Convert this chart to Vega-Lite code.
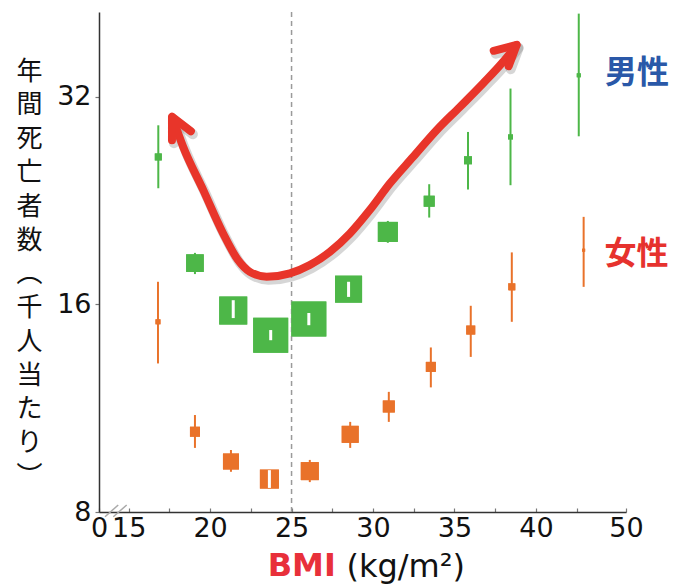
{
  "$schema": "https://vega.github.io/schema/vega-lite/v6.json",
  "width": 527,
  "height": 500,
  "autosize": {"type": "none"},
  "padding": {"left": 99, "top": 12, "right": 50, "bottom": 76},
  "background": "white",
  "config": {"view": {"stroke": null}},
  "datasets": {
    "pts": [
      {"sex": "男性", "bmi": 16.82, "rate": 26.19, "lo": 23.59, "hi": 29.11, "weight": 49, "inside": false},
      {"sex": "男性", "bmi": 19.07, "rate": 18.37, "lo": 17.71, "hi": 19.01, "weight": 310, "inside": false},
      {"sex": "男性", "bmi": 21.42, "rate": 15.68, "lo": 15.29, "hi": 16.23, "weight": 784, "inside": true},
      {"sex": "男性", "bmi": 23.72, "rate": 14.44, "lo": 14.2, "hi": 14.69, "weight": 1225, "inside": true},
      {"sex": "男性", "bmi": 26.06, "rate": 15.24, "lo": 14.93, "hi": 15.55, "weight": 1225, "inside": true},
      {"sex": "男性", "bmi": 28.5, "rate": 16.84, "lo": 16.41, "hi": 17.26, "weight": 729, "inside": true},
      {"sex": "男性", "bmi": 30.91, "rate": 20.39, "lo": 19.66, "hi": 21.15, "weight": 400, "inside": false},
      {"sex": "男性", "bmi": 33.45, "rate": 22.59, "lo": 21.39, "hi": 23.91, "weight": 121, "inside": false},
      {"sex": "男性", "bmi": 35.83, "rate": 25.9, "lo": 23.49, "hi": 28.47, "weight": 64, "inside": false},
      {"sex": "男性", "bmi": 38.44, "rate": 28.0, "lo": 23.83, "hi": 32.91, "weight": 25, "inside": false},
      {"sex": "男性", "bmi": 42.63, "rate": 34.4, "lo": 28.06, "hi": 42.27, "weight": 16, "inside": false},
      {"sex": "女性", "bmi": 16.8, "rate": 15.1, "lo": 13.14, "hi": 17.26, "weight": 25, "inside": false},
      {"sex": "女性", "bmi": 19.07, "rate": 10.46, "lo": 9.91, "hi": 11.06, "weight": 100, "inside": false},
      {"sex": "女性", "bmi": 21.28, "rate": 9.47, "lo": 9.15, "hi": 9.84, "weight": 256, "inside": false},
      {"sex": "女性", "bmi": 23.64, "rate": 8.93, "lo": 8.67, "hi": 9.2, "weight": 361, "inside": true},
      {"sex": "女性", "bmi": 26.12, "rate": 9.17, "lo": 8.84, "hi": 9.52, "weight": 324, "inside": false},
      {"sex": "女性", "bmi": 28.6, "rate": 10.37, "lo": 9.91, "hi": 10.81, "weight": 289, "inside": false},
      {"sex": "女性", "bmi": 30.97, "rate": 11.38, "lo": 10.81, "hi": 11.95, "weight": 144, "inside": false},
      {"sex": "女性", "bmi": 33.55, "rate": 12.99, "lo": 12.13, "hi": 13.86, "weight": 100, "inside": false},
      {"sex": "女性", "bmi": 36.0, "rate": 14.69, "lo": 13.43, "hi": 15.93, "weight": 81, "inside": false},
      {"sex": "女性", "bmi": 38.52, "rate": 16.97, "lo": 15.1, "hi": 19.04, "weight": 49, "inside": false},
      {"sex": "女性", "bmi": 42.93, "rate": 19.18, "lo": 16.97, "hi": 21.44, "weight": 9, "inside": false}
    ],
    "shaft": [
      {"order": 1, "bmi": 17.69, "rate": 29.9},
      {"order": 2, "bmi": 18.35, "rate": 27.08},
      {"order": 3, "bmi": 19.58, "rate": 23.44},
      {"order": 4, "bmi": 20.8, "rate": 20.28},
      {"order": 5, "bmi": 21.72, "rate": 18.55},
      {"order": 6, "bmi": 22.44, "rate": 17.84},
      {"order": 7, "bmi": 23.47, "rate": 17.55},
      {"order": 8, "bmi": 24.9, "rate": 17.75},
      {"order": 9, "bmi": 26.12, "rate": 18.25},
      {"order": 10, "bmi": 27.35, "rate": 19.07},
      {"order": 11, "bmi": 28.58, "rate": 20.28},
      {"order": 12, "bmi": 29.8, "rate": 21.93},
      {"order": 13, "bmi": 31.03, "rate": 23.96},
      {"order": 14, "bmi": 32.46, "rate": 26.19},
      {"order": 15, "bmi": 33.9, "rate": 28.63},
      {"order": 16, "bmi": 35.33, "rate": 30.95},
      {"order": 17, "bmi": 36.75, "rate": 33.47},
      {"order": 18, "bmi": 37.98, "rate": 35.97},
      {"order": 19, "bmi": 38.8, "rate": 38.03}
    ],
    "heads": [
      {"part": "L", "order": 1, "bmi": 18.82, "rate": 28.54},
      {"part": "L", "order": 2, "bmi": 17.66, "rate": 29.95},
      {"part": "L", "order": 3, "bmi": 17.66, "rate": 27.69},
      {"part": "R", "order": 1, "bmi": 37.41, "rate": 37.34},
      {"part": "R", "order": 2, "bmi": 38.82, "rate": 38.09},
      {"part": "R", "order": 3, "bmi": 38.33, "rate": 35.46}
    ]
  },
  "layer": [
    {
      "data": {"name": "pts"},
      "mark": {"type": "point", "shape": "square", "filled": true, "opacity": 1, "strokeWidth": 0},
      "encoding": {
        "x": {
          "field": "bmi", "type": "quantitative",
          "scale": {"type": "linear", "domain": [13.18, 45.53], "nice": false, "zero": false},
          "axis": {
            "values": [13.18, 15, 17.5, 20, 22.5, 25, 27.5, 30, 32.5, 35, 37.5, 40, 42.5, 45.53],
            "labelExpr": "datum.value < 14 ? '0' : (datum.value > 45 ? '50' : (datum.value % 5 == 0 ? datum.label : ''))",
            "grid": false,
            "domainColor": "#333333", "domainWidth": 1.5,
            "tickColor": "#777777", "tickSize": -4, "tickWidth": 1.2,
            "labelFont": "DejaVu Sans", "labelFontSize": 27, "labelColor": "#111111",
            "labelPadding": 7, "labelFlush": false, "labelOverlap": false,
            "title": "(kg/m²)", "titleFont": "DejaVu Sans", "titleFontSize": 32, "titleFontWeight": "normal",
            "titleColor": "#111111", "titleAlign": "left", "titleAnchor": null,
            "titleX": 247, "titleY": 64, "titleBaseline": "alphabetic"
          }
        },
        "y": {
          "field": "rate", "type": "quantitative",
          "scale": {"type": "log", "domain": [8, 42.5], "nice": false},
          "axis": {
            "values": [8, 16, 32],
            "format": "d",
            "grid": false,
            "domainColor": "#333333", "domainWidth": 1.5,
            "tickColor": "#777777", "tickSize": 4, "tickWidth": 1.2,
            "labelFont": "DejaVu Sans", "labelFontSize": 27, "labelColor": "#111111",
            "labelPadding": 4, "labelFlush": false, "labelOverlap": false,
            "title": ["年", "間", "死", "亡", "者", "数", "︵", "千", "人", "当", "た", "り", "︶"],
            "titleFont": "Noto Sans CJK JP", "titleFontSize": 26, "titleFontWeight": "normal",
            "titleColor": "#111111", "titleAngle": 0, "titleAlign": "center", "titleAnchor": null,
            "titleBaseline": "top", "titleLineHeight": 33.8, "titleX": -70, "titleY": 46
          }
        },
        "size": {"field": "weight", "type": "quantitative", "scale": {"type": "linear", "domain": [0, 1225], "range": [0, 1225], "zero": true}, "legend": null},
        "color": {"field": "sex", "type": "nominal", "scale": {"domain": ["男性", "女性"], "range": ["#4db748", "#e9722a"]}, "legend": null}
      }
    },
    {
      "data": {"values": [{"bmi": 25}]},
      "mark": {"type": "rule", "color": "#9a9a9a", "strokeDash": [5, 4], "strokeWidth": 1.5},
      "encoding": {
        "x": {"field": "bmi", "type": "quantitative"}
      }
    },
    {
      "data": {"values": [
        {"bmi": 13.55, "bmi2": 14.36, "rate": 7.875, "rate2": 8.19},
        {"bmi": 14.06, "bmi2": 14.88, "rate": 7.875, "rate2": 8.19}
      ]},
      "mark": {"type": "rule", "color": "#aaaaaa", "strokeWidth": 1.5},
      "encoding": {
        "x": {"field": "bmi", "type": "quantitative"},
        "x2": {"field": "bmi2"},
        "y": {"field": "rate", "type": "quantitative"},
        "y2": {"field": "rate2"}
      }
    },
    {
      "data": {"name": "pts"},
      "mark": {"type": "rule", "strokeWidth": 2},
      "encoding": {
        "x": {"field": "bmi", "type": "quantitative"},
        "y": {"field": "lo", "type": "quantitative"},
        "y2": {"field": "hi"},
        "color": {"field": "sex", "type": "nominal", "legend": null}
      }
    },
    {
      "data": {"name": "pts"},
      "mark": {"type": "point", "shape": "square", "filled": true, "opacity": 1, "strokeWidth": 0},
      "encoding": {
        "x": {"field": "bmi", "type": "quantitative"},
        "y": {"field": "rate", "type": "quantitative"},
        "size": {"field": "weight", "type": "quantitative", "legend": null},
        "color": {"field": "sex", "type": "nominal", "legend": null}
      }
    },
    {
      "data": {"name": "pts"},
      "transform": [{"filter": "datum.inside"}],
      "mark": {"type": "rule", "strokeWidth": 3, "color": "white"},
      "encoding": {
        "x": {"field": "bmi", "type": "quantitative"},
        "y": {"field": "lo", "type": "quantitative"},
        "y2": {"field": "hi"}
      }
    },
    {
      "data": {"name": "shaft"},
      "mark": {"type": "line", "interpolate": "monotone", "color": "#777777", "opacity": 0.3, "strokeWidth": 10, "strokeCap": "round", "xOffset": 2, "yOffset": 3},
      "encoding": {
        "x": {"field": "bmi", "type": "quantitative"},
        "y": {"field": "rate", "type": "quantitative"},
        "order": {"field": "order", "type": "quantitative"}
      }
    },
    {
      "data": {"name": "heads"},
      "mark": {"type": "line", "interpolate": "linear", "color": "#777777", "opacity": 0.3, "strokeWidth": 10, "strokeCap": "round", "strokeJoin": "round", "xOffset": 2, "yOffset": 3},
      "encoding": {
        "x": {"field": "bmi", "type": "quantitative"},
        "y": {"field": "rate", "type": "quantitative"},
        "detail": {"field": "part", "type": "nominal"},
        "order": {"field": "order", "type": "quantitative"}
      }
    },
    {
      "data": {"name": "shaft"},
      "mark": {"type": "line", "interpolate": "monotone", "color": "#e8352a", "strokeWidth": 8, "strokeCap": "round"},
      "encoding": {
        "x": {"field": "bmi", "type": "quantitative"},
        "y": {"field": "rate", "type": "quantitative"},
        "order": {"field": "order", "type": "quantitative"}
      }
    },
    {
      "data": {"name": "heads"},
      "mark": {"type": "line", "interpolate": "linear", "color": "#e8352a", "strokeWidth": 8, "strokeCap": "round", "strokeJoin": "round"},
      "encoding": {
        "x": {"field": "bmi", "type": "quantitative"},
        "y": {"field": "rate", "type": "quantitative"},
        "detail": {"field": "part", "type": "nominal"},
        "order": {"field": "order", "type": "quantitative"}
      }
    },
    {
      "data": {"values": [{"label": "男性", "bmi": 46.21, "rate": 34.63}]},
      "mark": {"type": "text", "font": "Noto Sans CJK JP", "fontSize": 32, "fontWeight": "bold", "align": "center", "baseline": "middle", "color": "#2a58a8"},
      "encoding": {
        "x": {"field": "bmi", "type": "quantitative"},
        "y": {"field": "rate", "type": "quantitative"},
        "text": {"field": "label"}
      }
    },
    {
      "data": {"values": [{"label": "女性", "bmi": 46.18, "rate": 18.93}]},
      "mark": {"type": "text", "font": "Noto Sans CJK JP", "fontSize": 32, "fontWeight": "bold", "align": "center", "baseline": "middle", "color": "#e6322e"},
      "encoding": {
        "x": {"field": "bmi", "type": "quantitative"},
        "y": {"field": "rate", "type": "quantitative"},
        "text": {"field": "label"}
      }
    },
    {
      "data": {"values": [{"label": "BMI", "bmi": 27.72, "rate": 6.46}]},
      "mark": {"type": "text", "font": "DejaVu Sans", "fontSize": 32, "fontWeight": "bold", "align": "right", "baseline": "alphabetic", "color": "#e8303a"},
      "encoding": {
        "x": {"field": "bmi", "type": "quantitative"},
        "y": {"field": "rate", "type": "quantitative"},
        "text": {"field": "label"}
      }
    }
  ]
}
